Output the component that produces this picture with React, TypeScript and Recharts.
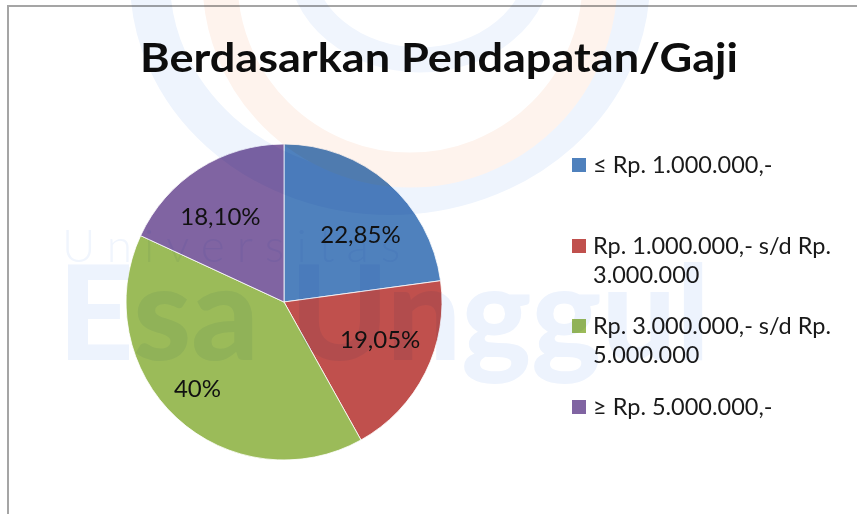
import React from "react";
import { PieChart, Pie, Cell, Legend } from "recharts";

// income groups (pendapatan / gaji)
const categories = [
  "≤ Rp. 1.000.000,-",
  "Rp. 1.000.000,- s/d Rp. 3.000.000",
  "Rp. 3.000.000,- s/d Rp. 5.000.000",
  "≥ Rp. 5.000.000,-",
];
const values = [22.85, 19.05, 40, 18.1];
const valueLabels = ["22,85%", "19,05%", "40%", "18,10%"];

const COLORS = ["#4f81bd", "#c0504d", "#9bbb59", "#8064a2"];

const data = categories.map((name, i) => ({ name, value: values[i], label: valueLabels[i] }));

const FONT = "Lato, 'Open Sans', sans-serif";
const RADIAN = Math.PI / 180;

// excel "best fit" nudges for the inside labels
const LABEL_R = [0.65, 0.65, 0.77, 0.68];
const LABEL_SHIFT = [7, -6, 2.5, -3.7];

function renderLabel({ cx, cy, midAngle, outerRadius, index }: any) {
  const r = outerRadius * LABEL_R[index];
  const a = (midAngle - LABEL_SHIFT[index]) * RADIAN;
  const x = cx + r * Math.cos(-a);
  const y = cy + r * Math.sin(-a);
  return (
    <text
      x={x}
      y={y}
      textAnchor="middle"
      dominantBaseline="central"
      fill="#111"
      fontSize={24}
      fontFamily={FONT}
    >
      {data[index].label}
    </text>
  );
}

function LegendList({ payload }: any) {
  const items = [...(payload || [])].sort(
    (a: any, b: any) => categories.indexOf(a.value) - categories.indexOf(b.value)
  );
  return (
    <div style={{ fontFamily: FONT, fontSize: 23.5, color: "#1a1a1a" }}>
      {items.map((p: any, i: number) => (
        <div key={i} style={{ display: "flex", alignItems: "flex-start", height: 80.7 }}>
          <span
            style={{
              width: 14,
              height: 14,
              marginTop: 8,
              marginRight: 7,
              flex: "none",
              background: p.color,
            }}
          />
          <span style={{ width: 255, lineHeight: "29px", textAlign: "left" }}>{p.value}</span>
        </div>
      ))}
    </div>
  );
}

// faint university logo behind the chart
function Watermark() {
  return (
    <svg
      width={857}
      height={514}
      style={{ position: "absolute", left: 0, top: 0, mixBlendMode: "multiply", pointerEvents: "none" }}
    >
      <ellipse cx={390} cy={-20} rx={240} ry={215} fill="none" stroke="#eef4fd" strokeWidth={40} />
      <ellipse cx={410} cy={-20} rx={190} ry={190} fill="none" stroke="#fef3ed" strokeWidth={35} />
      <ellipse cx={420} cy={-40} rx={120} ry={100} fill="none" stroke="#f0f5fd" strokeWidth={25} />
      <text x={62} y={262} fontFamily={FONT} fontWeight={300} fontSize={46} letterSpacing={12} fill="#f0f5fd">
        Universitas
      </text>
      <text x={58} y={360} fontFamily={FONT} fontWeight={900} fontSize={132} fill="#edf3fd">
        Esa Unggul
      </text>
    </svg>
  );
}

export default function App() {
  return (
    <div style={{ position: "absolute", left: 0, top: 0, width: 857, height: 514, overflow: "hidden", background: "#fff" }}>
      <div
        style={{
          position: "absolute",
          left: 7,
          top: 5,
          width: 900,
          height: 560,
          borderLeft: "2px solid #a5a5a5",
          borderTop: "2px solid #a5a5a5",
        }}
      />
      <svg width={857} height={120} style={{ position: "absolute", left: 0, top: 0 }}>
        <text
          x={140}
          y={72}
          fontFamily={FONT}
          fontWeight={700}
          fontSize={41}
          fill="#0d0d0d"
          textLength={598}
          lengthAdjust="spacingAndGlyphs"
        >
          Berdasarkan Pendapatan/Gaji
        </text>
      </svg>
      <div style={{ position: "absolute", left: 0, top: 0 }}>
        <PieChart width={857} height={514} margin={{ top: 0, right: 0, bottom: 0, left: 0 }}>
          <Pie
            data={data}
            dataKey="value"
            nameKey="name"
            cx={284}
            cy={302}
            outerRadius={158}
            startAngle={90}
            endAngle={-270}
            label={renderLabel}
            labelLine={false}
            isAnimationActive={false}
          >
            {data.map((d, i) => (
              <Cell key={d.name} fill={COLORS[i]} stroke="#fff" strokeWidth={0.8} />
            ))}
          </Pie>
          <Legend
            layout="vertical"
            align="right"
            verticalAlign="top"
            content={<LegendList />}
            wrapperStyle={{ left: 572, top: 150, width: 285 }}
          />
        </PieChart>
      </div>
      <Watermark />
    </div>
  );
}
